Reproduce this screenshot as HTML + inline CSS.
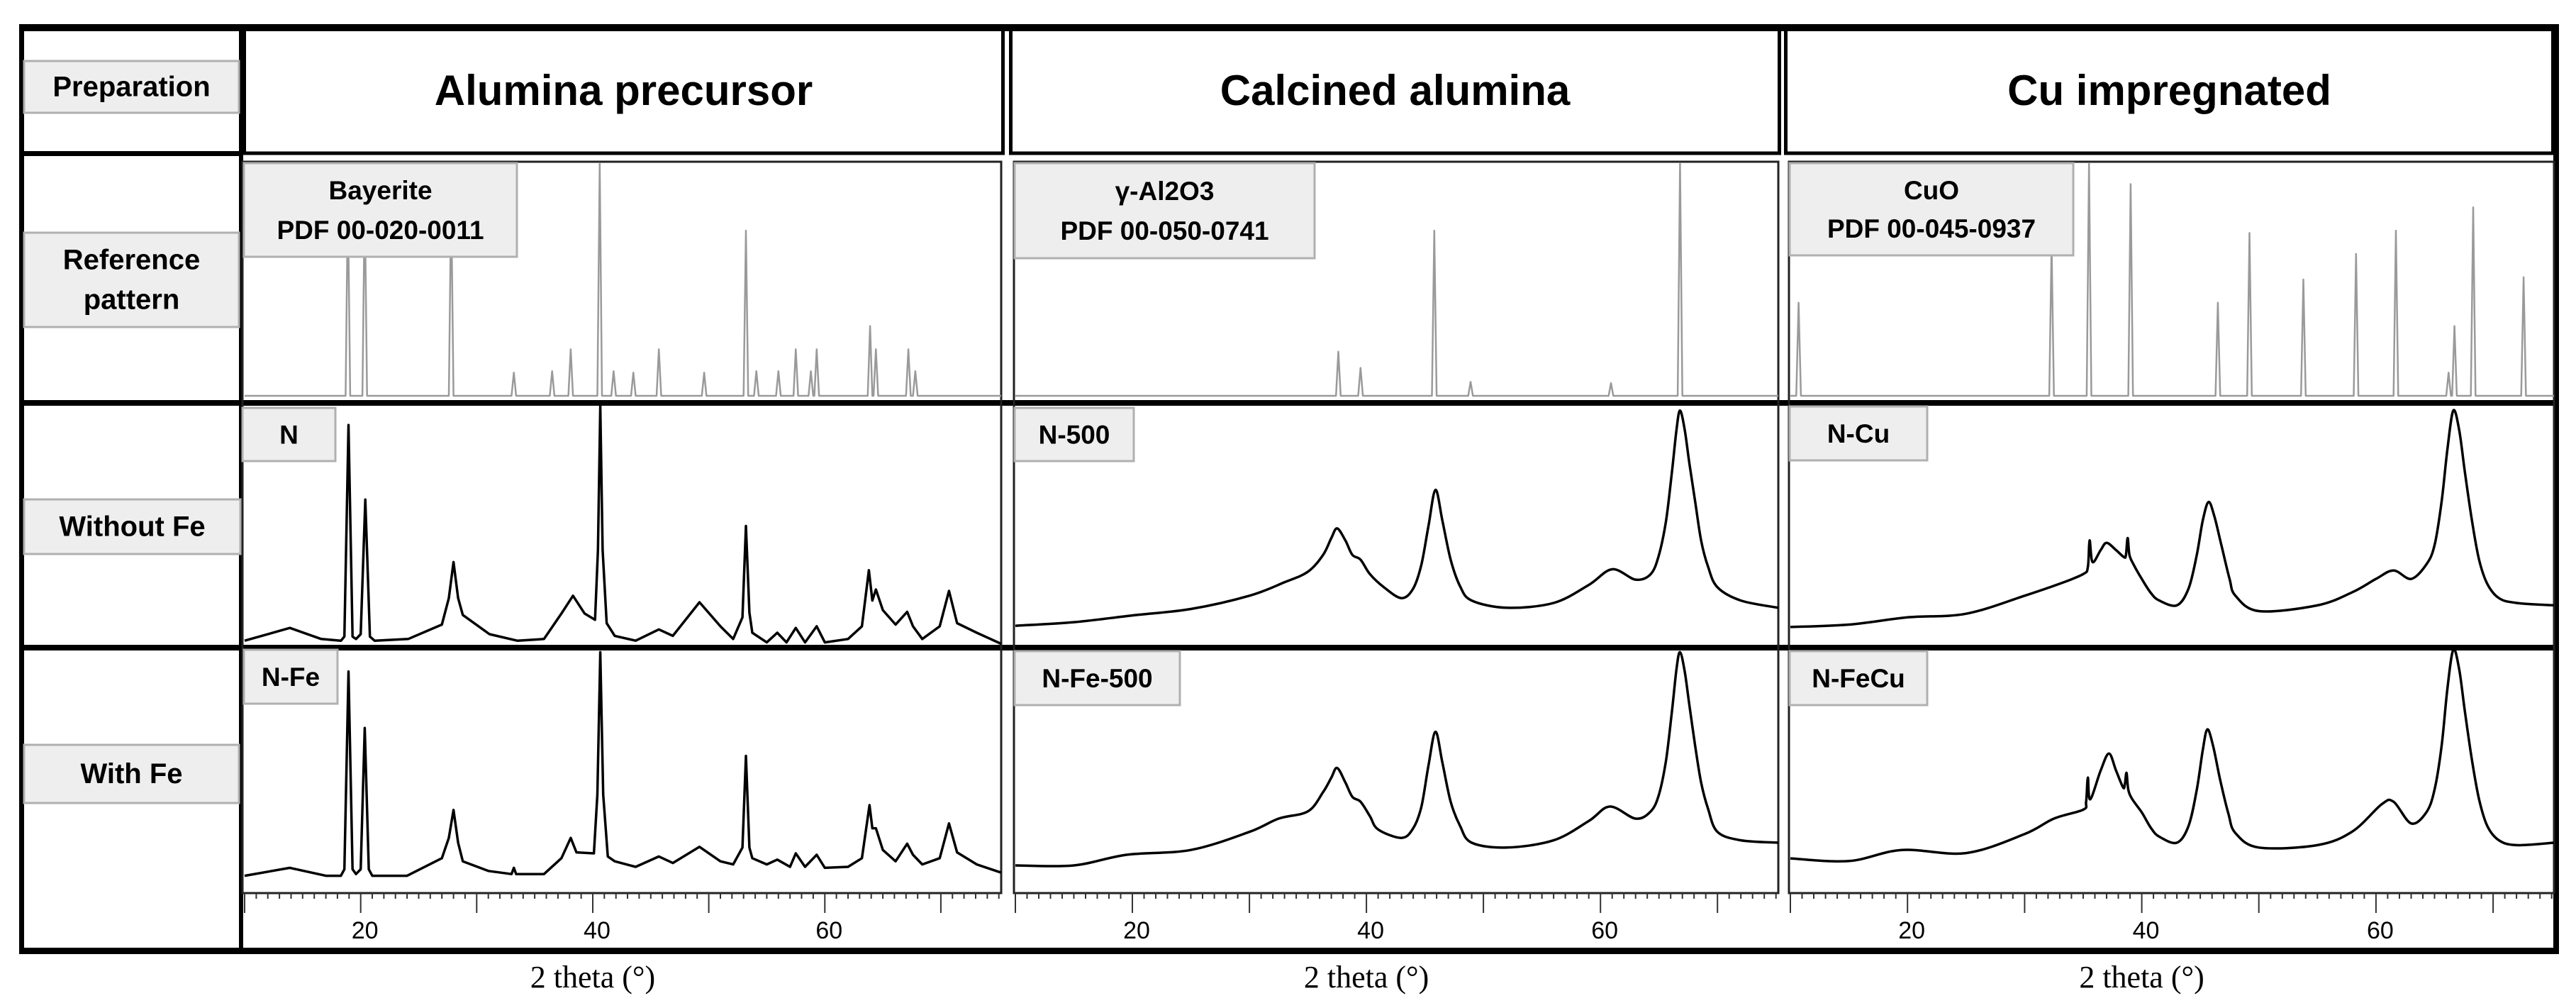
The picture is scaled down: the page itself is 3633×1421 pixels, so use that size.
<!DOCTYPE html>
<html><head><meta charset="utf-8"><style>
html,body{margin:0;padding:0;background:#fff;}
svg{display:block;}
.hd{font-family:"Liberation Sans",sans-serif;font-weight:bold;font-size:60px;fill:#000;}
.lb{font-family:"Liberation Sans",sans-serif;font-weight:bold;font-size:40px;fill:#000;}
.sl{font-family:"Liberation Sans",sans-serif;font-weight:bold;font-size:37px;fill:#000;}
.tk{font-family:"Liberation Sans",sans-serif;font-size:34px;fill:#000;}
.ax{font-family:"Liberation Serif",serif;font-size:44px;fill:#000;}
</style></head><body>
<svg id="fig" width="3633" height="1421" viewBox="0 0 3633 1421" xmlns="http://www.w3.org/2000/svg">
<rect x="0" y="0" width="3633" height="1421" fill="#fff"/>
<g id="frames"></g>
<g id="plots"></g>
<g id="labels"></g>
</svg>
<script>
// ---------- data ----------
const xTickLabels = [20, 40, 60];
const columnTitles = ["Alumina precursor", "Calcined alumina", "Cu impregnated"];
const rowTitles = ["Preparation", "Reference pattern", "Without Fe", "With Fe"];

// reference patterns: peak positions (2theta) and relative intensities
const bayeritePos = [18.9, 20.35, 27.8, 33.2, 36.5, 38.1, 40.6, 41.8, 43.5, 45.7, 49.6, 53.2, 54.1, 56.0, 57.5, 58.8, 59.3, 63.9, 64.4, 67.2, 67.8];
const bayeriteInt = [85, 85, 85, 10, 10.6, 20, 100, 10.6, 10, 20, 10, 71, 10.6, 10.6, 20, 10.6, 20, 30, 20, 20, 10.6];
const gammaPos = [37.6, 39.5, 45.8, 48.9, 60.9, 66.8];
const gammaInt = [19, 12, 71, 6, 5.5, 100];
const cuoPos = [10.7, 32.3, 35.5, 39.05, 46.5, 49.2, 53.8, 58.3, 61.7, 66.2, 66.7, 68.3, 72.6];
const cuoInt = [40, 65, 100, 91, 40, 70, 50, 61, 71, 10, 30, 81, 51];

// measured patterns: 2theta and intensity (% of panel height)
const nX = [10,13.9,16.6,18.3,18.6,18.95,19.3,19.6,20.0,20.4,20.8,21.2,24.1,27,27.6,28,28.4,28.8,31.1,33.5,35.8,37.3,38.3,39.3,40.2,40.45,40.65,40.85,41.2,41.9,43.7,45.7,46.9,49.2,51,52.1,52.9,53.2,53.5,53.75,55,55.9,56.7,57.5,58.3,59.3,60,62,63.2,63.8,64.1,64.4,65,66.1,67.1,67.6,68.4,69.9,70.7,71.4,73.1,75.2];
const nY = [2.3,7.6,3,2.3,4,92,4,3,5,61,4,2.3,3,9,20,35,20,13,5,2.3,3,13.6,21,13.6,11,40,100,40,9.6,4.3,2.3,7,4.3,18.3,8.3,3,12,50,14,5.6,1.6,5.6,1.6,7.6,1.6,8.3,1.6,3,8.3,31.6,19,23.6,15,9,14.3,8.3,3,8.3,23,9.6,5.6,1];
const nFeX = [10,13.9,17,18.3,18.6,18.95,19.3,19.6,20.0,20.35,20.7,21.0,24,27,27.6,28,28.4,28.8,31,33,33.2,33.4,35.8,37.3,38.1,38.6,40.1,40.4,40.65,40.9,41.3,41.9,43.7,45.7,46.9,49.2,51,52.1,52.9,53.2,53.5,53.75,55,55.9,57,57.5,58.3,59.3,60,62,63.2,63.85,64.1,64.4,65,66.1,67.1,67.6,68.4,69.9,70.7,71.4,73.1,75.2];
const nFeY = [6.3,9.6,6.3,6.3,9,91,9,7,9,67.6,9,6.3,6.3,13.6,22,33.6,20,12.3,8.3,7,9.6,7,7,13.6,22,16,15.6,40,99,40,14.3,12.3,10,14.3,11.6,18.3,12.3,11,18,56,18,13.6,11,13,10,15.6,10,15,9.6,10,13.6,35.6,26,26,17,12.3,19.6,15,11,13.6,28,16,11,7.6];
const n500X = [10,15,20,25,30,33,35,36.3,37,37.5,38.2,38.8,39.5,40.3,41.5,43,44,44.7,45.3,45.9,46.5,47.2,48,49,52,56,59,61,63,64.3,65,65.6,66.1,66.5,66.8,67.2,67.6,68.1,68.6,69.2,70,72,75.2];
const n500Y = [8.5,10,12.8,15.5,21,26.6,31,38,45,49,44,38,36,30,24.5,20,24,34,50,65,52,36,25,19,16,18,25.5,32,27.7,30,38,52,72,90,98,90,76,60,44,33,24.5,19,16];
const nFe500X = [10,15,19.5,25,30,32.5,35,36.3,37,37.5,38.2,38.8,39.5,40.3,41,43,44,44.7,45.3,45.9,46.5,47.2,48,49,52,56,59,60.8,63,64.3,65,65.6,66.1,66.5,66.8,67.2,67.6,68.1,68.6,69.2,70,72,75.2];
const nFe500Y = [10.6,10.6,15,17,24.5,30,33,41,47,51,45,39,37,31,25.5,22,26,35,52,66,53,37,27,20,18,21,29,35,30,33,40,54,74,92,99,91,77,60,45,34,24.5,21,20];
const nCuX = [10,15,20,25,30,33,35,35.4,35.55,35.8,36.5,37,37.8,38.5,38.65,38.8,38.95,39.3,40,40.8,41.5,43,44,44.7,45.2,45.7,46.2,46.8,47.5,48,50,55,58,60,61.5,63,64.3,65,65.6,66.1,66.6,67.1,67.6,68.2,68.8,69.5,70.5,72,75.2];
const nCuY = [8,9,12,13.5,21,26,30,33,44,35,40,43,40,37,38,45,38,34,28,22,19,17,24,38,52,60,54,42,28,21,14.6,17,22.5,28,31.5,28,34,42,60,82,98,90,72,52,36,26,20,18,17];
const nFeCuX = [10,15,19.5,25,30,32.5,35,35.25,35.4,35.6,36.5,37.2,37.8,38.4,38.55,38.7,38.85,39.2,40,40.8,41.5,43,44,44.7,45.2,45.6,46.1,46.7,47.4,48,50,55,58,60.5,61.5,63,64.3,65,65.6,66.1,66.6,67.1,67.6,68.2,68.8,69.5,70.5,72,75.2];
const nFeCuY = [13.5,12.4,17,15.7,23.6,30,33.7,37,47,38,50,57,50,43,44,49,42,38,32.6,26,22.5,20,27,42,58,67,60,46,32,24,18,19,24.7,36,37,28,32.6,42,60,84,100,92,74,54,38,27,21,19,20];

// ---------- layout ----------
const NS = "http://www.w3.org/2000/svg";
const cols = [{x10:345,x1:1412,px0:342},{x10:1432,x1:2508,px0:1430},{x10:2525,x1:3602,px0:2523}];
const XMIN = 10, XMAX = 75.2;
function xs(c, v){ const col = cols[c]; return col.x10 + (v - XMIN) * (col.x1 - col.x10) / (XMAX - XMIN); }
const rows = { ref:{base:558, top:230}, r2:{base:911, top:572}, r3:{base:1256, top:916} };
function ys(r, v){ const R = rows[r]; return R.base - v / 100 * (R.base - R.top); }

function mk(tag, attrs, parent){ const e = document.createElementNS(NS, tag); for (const k in attrs) e.setAttribute(k, attrs[k]); parent.appendChild(e); return e; }
const frames = document.getElementById('frames');
const plots = document.getElementById('plots');
const labels = document.getElementById('labels');

function rectFill(x, y, w, h, name){ const e = mk('rect', {x:x, y:y, width:w, height:h, fill:'#000'}, frames);   return e; }

rectFill(27, 34, 3582, 10, 'outer-border-top');
rectFill(27, 1336, 3582, 9, 'outer-border-bottom');
rectFill(27, 34, 7, 1311, 'outer-border-left');
rectFill(3601, 34, 8, 1311, 'outer-border-right');
rectFill(337, 34, 6, 1311, 'label-column-divider');
const hdr = [[342,1417],[1423,2512],[2516,3603]];
hdr.forEach((h, i) => {
  const r = mk('rect', {x:h[0]+2.5, y:41, width:h[1]-h[0]-5, height:175, fill:'none', stroke:'#000', 'stroke-width':5}, frames);
  
  
});
rectFill(27, 213, 316, 7, 'header-row-divider-left');
rectFill(27, 564, 3582, 8, 'row-divider-reference');
rectFill(27, 909, 3582, 8, 'row-divider-without-fe');
cols.forEach((c, i) => {
  const r = mk('rect', {x:c.px0, y:228, width:c.x1-c.px0, height:1031, fill:'none', stroke:'#222', 'stroke-width':3}, frames);
  
  
});

// ---------- reference patterns ----------
function refPath(c, pos, ints){
  const w = 0.2;
  const idx = pos.map((p, i) => i).sort((a, b) => pos[a] - pos[b]);
  let d = 'M' + xs(c, XMIN) + ' ' + ys('ref', 0);
  idx.forEach(i => {
    d += ' L' + xs(c, pos[i] - w).toFixed(1) + ' ' + ys('ref', 0).toFixed(1);
    d += ' L' + xs(c, pos[i]).toFixed(1) + ' ' + ys('ref', ints[i]).toFixed(1);
    d += ' L' + xs(c, pos[i] + w).toFixed(1) + ' ' + ys('ref', 0).toFixed(1);
  });
  d += ' L' + xs(c, XMAX) + ' ' + ys('ref', 0);
  return d;
}
[[bayeritePos, bayeriteInt, 'bayerite-reference-pattern'], [gammaPos, gammaInt, 'gamma-alumina-reference-pattern'], [cuoPos, cuoInt, 'cuo-reference-pattern']].forEach((s, c) => {
  const p = mk('path', {d:refPath(c, s[0], s[1]), fill:'none', stroke:'#9a9a9a', 'stroke-width':2.5, 'stroke-linejoin':'round'}, plots);
  
  
});

// ---------- measured patterns ----------
function linePath(c, r, X, Y){ return X.map((v, i) => (i ? 'L' : 'M') + xs(c, v).toFixed(1) + ' ' + ys(r, Y[i]).toFixed(1)).join(' '); }
function smoothPath(c, r, X, Y){
  const P = X.map((v, i) => [xs(c, v), ys(r, Y[i])]);
  let d = 'M' + P[0][0].toFixed(1) + ' ' + P[0][1].toFixed(1);
  for (let i = 0; i < P.length - 1; i++) {
    const p0 = P[Math.max(0, i-1)], p1 = P[i], p2 = P[i+1], p3 = P[Math.min(P.length-1, i+2)];
    const c1 = [p1[0] + (p2[0]-p0[0])/6, p1[1] + (p2[1]-p0[1])/6];
    const c2 = [p2[0] - (p3[0]-p1[0])/6, p2[1] - (p3[1]-p1[1])/6];
    d += ' C' + c1[0].toFixed(1) + ' ' + c1[1].toFixed(1) + ' ' + c2[0].toFixed(1) + ' ' + c2[1].toFixed(1) + ' ' + p2[0].toFixed(1) + ' ' + p2[1].toFixed(1);
  }
  return d;
}
[[0,'r2',nX,nY,'n-pattern'],[0,'r3',nFeX,nFeY,'n-fe-pattern'],[1,'r2',n500X,n500Y,'n-500-pattern'],[1,'r3',nFe500X,nFe500Y,'n-fe-500-pattern'],[2,'r2',nCuX,nCuY,'n-cu-pattern'],[2,'r3',nFeCuX,nFeCuY,'n-fecu-pattern']].forEach(s => {
  const d = s[0] === 0 ? linePath(s[0], s[1], s[2], s[3]) : smoothPath(s[0], s[1], s[2], s[3]);
  const p = mk('path', {d:d, fill:'none', stroke:'#000', 'stroke-width':3.5, 'stroke-linejoin':'round'}, plots);
  
  
});

// ---------- axes ----------
cols.forEach((c, ci) => {
  const g = mk('g', {}, plots);
  
  
  let d = '';
  for (let v = XMIN; v <= XMAX; v += 1) {
    const x = xs(ci, v).toFixed(1);
    const len = (v % 10 === 0) ? 28 : 8;
    d += 'M' + x + ' 1259 L' + x + ' ' + (1259 + len) + ' ';
  }
  mk('path', {d:d, stroke:'#333', 'stroke-width':2, fill:'none'}, g);
  xTickLabels.forEach(t => {
    const e = mk('text', {x:xs(ci, t) + 6, y:1323, 'text-anchor':'middle', class:'tk'}, g);
    e.textContent = t;
    
    
  });
  const at = mk('text', {x:xs(ci, 40), y:1392, 'text-anchor':'middle', class:'ax'}, labels);
  at.textContent = '2 theta (°)';
  
  
});

// ---------- labels ----------
function box(x, y, w, h, lines, cls, name, lh){
  const g = mk('g', {}, labels);
  
  
  mk('rect', {x:x, y:y, width:w, height:h, fill:'#eeeeee', stroke:'#b0b0b0', 'stroke-width':3}, g);
  const n = lines.length;
  lines.forEach((t, i) => {
    const e = mk('text', {x:x + w/2, y:y + h/2 + (i - (n-1)/2) * lh + 13, 'text-anchor':'middle', class:cls}, g);
    e.textContent = t;
  });
}
columnTitles.forEach((t, i) => {
  const e = mk('text', {x:(hdr[i][0] + hdr[i][1]) / 2, y:148, 'text-anchor':'middle', class:'hd'}, labels);
  e.textContent = t;
  
  
});
box(34, 86, 303, 73, [rowTitles[0]], 'lb', 'row-label-preparation', 50);
box(34, 328, 303, 133, ['Reference', 'pattern'], 'lb', 'row-label-reference-pattern', 56);
box(34, 704, 305, 77, [rowTitles[2]], 'lb', 'row-label-without-fe', 50);
box(34, 1050, 303, 82, [rowTitles[3]], 'lb', 'row-label-with-fe', 50);

box(344, 230, 385, 132, ['Bayerite', 'PDF 00-020-0011'], 'sl', 'bayerite-label', 56);
box(1431, 230, 423, 134, ['γ-Al2O3', 'PDF 00-050-0741'], 'sl', 'gamma-alumina-label', 56);
box(2524, 230, 400, 130, ['CuO', 'PDF 00-045-0937'], 'sl', 'cuo-label', 54);
box(342, 575, 131, 75, ['N'], 'sl', 'sample-label-n', 50);
box(344, 916, 132, 76, ['N-Fe'], 'sl', 'sample-label-n-fe', 50);
box(1431, 575, 168, 75, ['N-500'], 'sl', 'sample-label-n-500', 50);
box(1431, 918, 233, 76, ['N-Fe-500'], 'sl', 'sample-label-n-fe-500', 50);
box(2524, 573, 194, 76, ['N-Cu'], 'sl', 'sample-label-n-cu', 50);
box(2524, 918, 194, 76, ['N-FeCu'], 'sl', 'sample-label-n-fecu', 50);
</script>
</body></html>
